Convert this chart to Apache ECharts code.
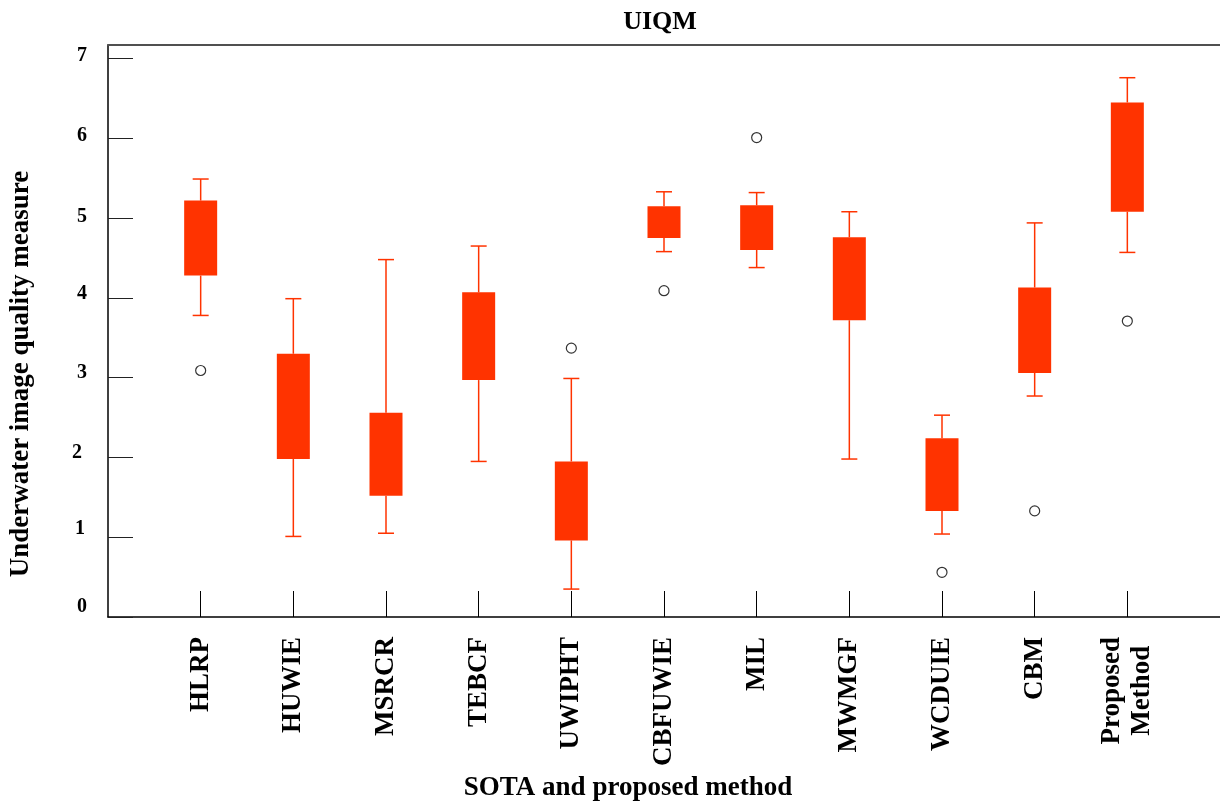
<!DOCTYPE html>
<html>
<head>
<meta charset="utf-8">
<script src="https://cdn.jsdelivr.net/npm/echarts@6/dist/echarts.min.js"></script>
<style>
html,body{margin:0;padding:0;background:#fff;}
#chart{width:1220px;height:807px;}
</style>
</head>
<body>
<div id="chart"></div>
<script>
// ---- data ----
const categories = ['HLRP','HUWIE','MSRCR','TEBCF','UWIPHT','CBFUWIE','MIL','MWMGF','WCDUIE','CBM','Proposed\nMethod'];
const whiskerLow  = [3.78, 1.01, 1.05, 1.95, 0.35, 4.58, 4.38, 1.98, 1.04, 2.77, 4.57];
const quartile1   = [4.28, 1.98, 1.52, 2.97, 0.96, 4.75, 4.60, 3.72, 1.33, 3.06, 5.08];
const quartile3   = [5.22, 3.30, 2.56, 4.07, 1.95, 5.15, 5.16, 4.76, 2.24, 4.13, 6.45];
const whiskerHigh = [5.49, 3.99, 4.48, 4.65, 2.99, 5.33, 5.32, 5.08, 2.53, 4.94, 6.76];
const outlierCategories = ['HLRP','UWIPHT','CBFUWIE','MIL','WCDUIE','CBM','Proposed\nMethod'];
const outlierValues     = [3.09, 3.37, 4.09, 6.01, 0.56, 1.33, 3.71];
const yTickLabels = ['0','1','2','3','4','5','6','7'];
const titleText = 'UIQM';
const xAxisTitle = 'SOTA and proposed method';
const yAxisTitle = 'Underwater image quality measure';

// ---- build ----
const axisCats = [''].concat(categories, ['']);
const boxData = categories.map((c, i) => [i + 1, whiskerLow[i], quartile1[i], quartile3[i], whiskerHigh[i]]);
const outlierData = outlierCategories.map((c, i) => [axisCats.indexOf(c), outlierValues[i]]);

const FONT = '"Liberation Serif", "Times New Roman", serif';
const RED = '#ff3300';
const BOX_W = 33, CAP_W = 16;

// per-label vertical nudges (label text sits a little above its tick in the reference)
const labelPad = {0:[0,0,20,0],1:[0,2,17,0],2:[0,5,10,0],3:[0,0,10,0],4:[0,0,8,0],5:[0,0,3,0],6:[0,0,5,0],7:[0,0,6,0]};
const rich = {};
yTickLabels.forEach((t, i) => {
  rich['t' + i] = {fontFamily: FONT, fontWeight: 'bold', fontSize: 20, color: '#000', padding: labelPad[i]};
});

function renderBox(params, api) {
  const x = api.value(0);
  const pLow = api.coord([x, api.value(1)]);
  const pQ1 = api.coord([x, api.value(2)]);
  const pQ3 = api.coord([x, api.value(3)]);
  const pHigh = api.coord([x, api.value(4)]);
  const cx = pLow[0];
  const lineStyle = {stroke: RED, lineWidth: 1.5, fill: null};
  return {
    type: 'group',
    children: [
      {type: 'line', shape: {x1: cx, y1: pHigh[1], x2: cx, y2: pQ3[1]}, style: lineStyle},
      {type: 'line', shape: {x1: cx, y1: pQ1[1], x2: cx, y2: pLow[1]}, style: lineStyle},
      {type: 'line', shape: {x1: cx - CAP_W / 2, y1: pHigh[1], x2: cx + CAP_W / 2, y2: pHigh[1]}, style: lineStyle},
      {type: 'line', shape: {x1: cx - CAP_W / 2, y1: pLow[1], x2: cx + CAP_W / 2, y2: pLow[1]}, style: lineStyle},
      {type: 'rect', shape: {x: cx - BOX_W / 2, y: pQ3[1], width: BOX_W, height: pQ1[1] - pQ3[1]}, style: {fill: RED, stroke: null}}
    ]
  };
}

const chart = echarts.init(document.getElementById('chart'), null, {renderer: 'canvas'});
chart.setOption({
  animation: false,
  backgroundColor: '#fff',
  title: {
    text: titleText,
    left: 655, top: 4, textAlign: 'center',
    textStyle: {fontFamily: FONT, fontWeight: 'bold', fontSize: 26, color: '#000'}
  },
  grid: {left: 108, right: 0, top: 45, bottom: 187, containLabel: false},
  xAxis: [{
    type: 'category',
    data: axisCats,
    boundaryGap: false,
    axisLine: {show: true, lineStyle: {color: '#000', width: 1.5}},
    axisTick: {show: true, inside: true, length: 26, lineStyle: {color: '#000', width: 1},
      interval: (i) => i > 0 && i < axisCats.length - 1},
    axisLabel: {show: true, rotate: 90, margin: 20, interval: 0,
      fontFamily: FONT, fontWeight: 'bold', fontSize: 27, color: '#000', lineHeight: 30,
      formatter: (v) => v.indexOf('\n') >= 0 ? v.split('\n').map(s => '{c|' + s + '}').join('\n') : v,
      rich: {c: {fontFamily: FONT, fontWeight: 'bold', fontSize: 27, color: '#000', lineHeight: 30, align: 'center'}}},
    splitLine: {show: false},
    name: xAxisTitle, nameLocation: 'middle', nameGap: 158,
    nameTextStyle: {fontFamily: FONT, fontWeight: 'bold', fontSize: 27, color: '#000', padding: [0, 72, 0, 0]}
  }, {
    type: 'category',
    data: axisCats,
    position: 'top',
    boundaryGap: false,
    axisLine: {show: true, lineStyle: {color: '#505050', width: 2}},
    axisTick: {show: false}, axisLabel: {show: false}, splitLine: {show: false}
  }],
  yAxis: {
    type: 'value',
    min: 0, max: 7.17, interval: 1,
    axisLine: {show: true, lineStyle: {color: '#000', width: 1.5}},
    axisTick: {show: true, inside: true, length: 25, lineStyle: {color: '#222', width: 1}},
    axisLabel: {show: true, margin: 21, showMaxLabel: false,
      formatter: (v) => {
        const i = yTickLabels.indexOf(String(v));
        return i >= 0 ? '{t' + i + '|' + yTickLabels[i] + '}' : '';
      },
      rich: rich},
    splitLine: {show: false},
    name: yAxisTitle, nameLocation: 'middle', nameGap: 73, nameRotate: 90,
    nameTextStyle: {fontFamily: FONT, fontWeight: 'bold', fontSize: 27, color: '#000', padding: [0, 86, 0, 0]}
  },
  series: [{
    type: 'custom',
    renderItem: renderBox,
    data: boxData,
    encode: {x: 0, y: [1, 2, 3, 4]},
    z: 2
  }, {
    type: 'scatter',
    data: outlierData,
    symbol: 'circle',
    symbolSize: 10,
    itemStyle: {color: '#fff', borderColor: '#000', borderWidth: 1.2},
    z: 3
  }]
});
</script>
</body>
</html>
